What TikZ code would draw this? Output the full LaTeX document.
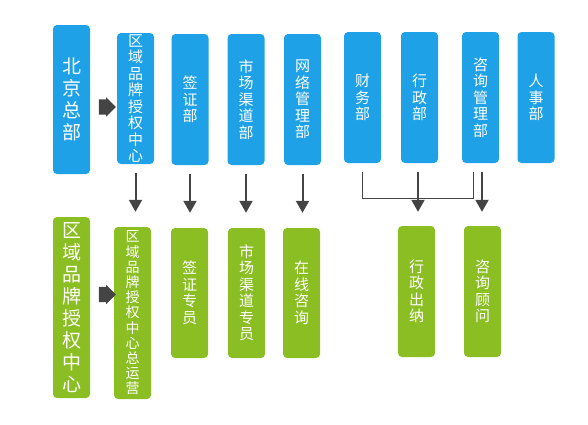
\documentclass[tikz,border=0pt]{standalone}
\usepackage{fontspec}
\newfontfamily\cjk{Noto Sans CJK SC}
\usetikzlibrary{arrows.meta,shapes.arrows}
\definecolor{deptblue}{RGB}{30,161,230}
\definecolor{deptgreen}{RGB}{139,190,35}
\definecolor{arrgray}{RGB}{68,68,68}
\tikzset{
  dept/.style={rectangle, rounded corners=4pt, inner sep=0pt, minimum width=37pt,
    text=white, align=center, font=\cjk\fontsize{15}{16.5}\selectfont},
  bluedept/.style={dept, fill=deptblue},
  greendept/.style={dept, fill=deptgreen},
  bigtxt/.style={font=\cjk\fontsize{19}{22}\selectfont},
  smalltxt/.style={font=\cjk\fontsize{14}{15.2}\selectfont},
  darr/.style={draw=arrgray, line width=2pt, -{Triangle[width=13pt,length=12pt]},
    shorten <=9pt, shorten >=15pt},
  bracket/.style={draw=arrgray, line width=1pt},
  blockarr/.style={single arrow, fill=arrgray, minimum height=17pt, minimum width=19pt,
    single arrow head extend=2pt, inner xsep=0pt, inner ysep=7.5pt}
}

\begin{document}
\begin{tikzpicture}[x=1pt,y=-1pt]
  \useasboundingbox (0,0) rectangle (588,424);
  \node[bluedept,bigtxt,minimum height=149pt] (bj) at (71.5,99.5) {北\\京\\总\\部};
  \node[bluedept,minimum height=131pt] (qy1) at (135.5,98.5) {区\\域\\品\\牌\\授\\权\\中\\心};
  \node[bluedept,minimum height=131pt] (qz) at (190,99.5) {签\\证\\部};
  \node[bluedept,minimum height=131pt] (sc) at (246,99.5) {市\\场\\渠\\道\\部};
  \node[bluedept,minimum height=131pt] (wl) at (302.5,99.5) {网\\络\\管\\理\\部};
  \node[bluedept,minimum height=131pt] (cw) at (362.5,97.5) {财\\务\\部};
  \node[bluedept,minimum height=131pt] (xz) at (419.5,97.5) {行\\政\\部};
  \node[bluedept,minimum height=131pt] (zx) at (480.5,97.5) {咨\\询\\管\\理\\部};
  \node[bluedept,minimum height=131pt] (rs) at (536,97.5) {人\\事\\部};

  \node[greendept,bigtxt,minimum height=181pt] (qy2) at (71.5,307.5) {区\\域\\品\\牌\\授\\权\\中\\心};
  \node[greendept,smalltxt,minimum height=172pt] (zyy) at (132.5,313) {区\\域\\品\\牌\\授\\权\\中\\心\\总\\运\\营};
  \node[greendept,minimum height=130pt] (qzzy) at (189.5,293) {签\\证\\专\\员};
  \node[greendept,minimum height=130pt] (sczy) at (246.5,293) {市\\场\\渠\\道\\专\\员};
  \node[greendept,minimum height=130pt] (zxzx) at (301.5,293) {在\\线\\咨\\询};
  \node[greendept,minimum height=131pt] (xzcn) at (416.5,291.5) {行\\政\\出\\纳};
  \node[greendept,minimum height=131pt] (zxgw) at (482.5,291.5) {咨\\询\\顾\\问};

  \node[blockarr] (ba1) at (103.5,107) {};
  \node[blockarr] (ba2) at (103.5,294.5) {};

  \draw[darr] (qy1.south) -- (qy1.south |- zyy.north);
  \draw[darr] (qz.south) -- (qz.south |- qzzy.north);
  \draw[darr] (sc.south) -- (sc.south |- sczy.north);
  \draw[darr] (wl.south) -- (wl.south |- zxzx.north);
  \draw[darr,shorten >=14pt] ([xshift=-1.5pt]xz.south) -- ([xshift=-1.5pt]xz.south |- xzcn.north);
  \draw[darr,shorten >=14pt] ([xshift=1.5pt]zx.south) -- ([xshift=1.5pt]zx.south |- zxgw.north);
  \draw[bracket] ([yshift=-9pt]cw.south) |- ([xshift=-7.5pt,yshift=-35pt]zx.south)
    -- ([xshift=-7.5pt,yshift=-9pt]zx.south);
\end{tikzpicture}
\end{document}
